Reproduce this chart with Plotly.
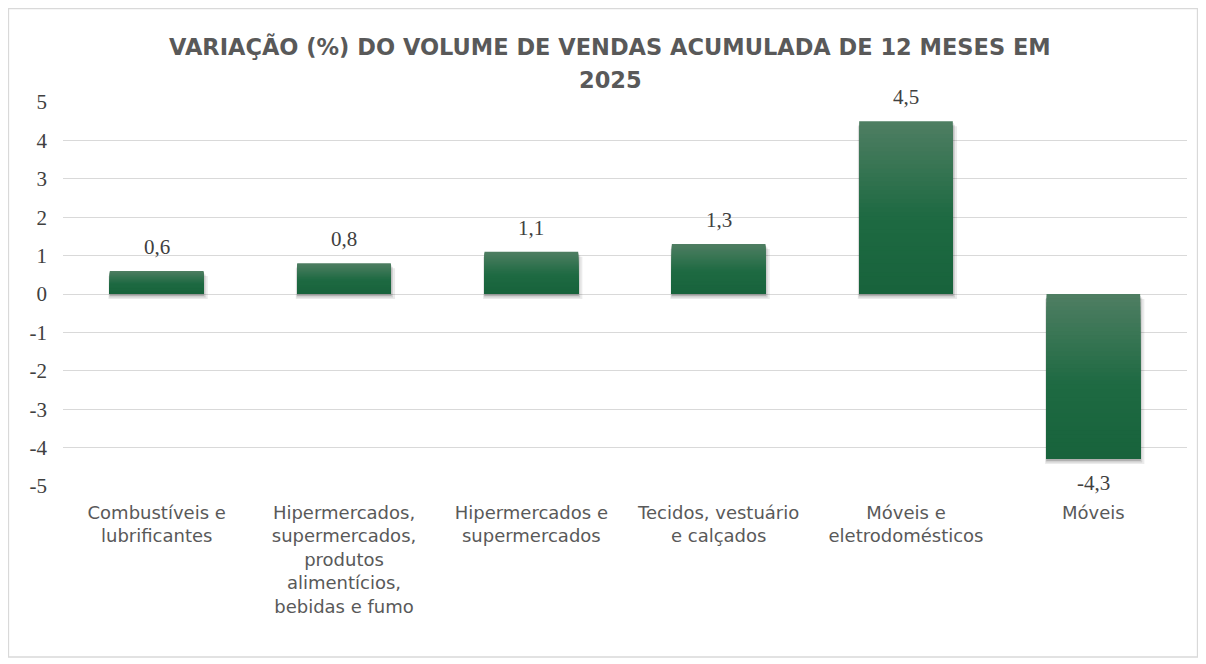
import plotly.graph_objects as go

categories = [
    "Combustíveis e<br>lubrificantes",
    "Hipermercados,<br>supermercados,<br>produtos<br>alimentícios,<br>bebidas e fumo",
    "Hipermercados e<br>supermercados",
    "Tecidos, vestuário<br>e calçados",
    "Móveis e<br>eletrodomésticos",
    "Móveis",
]
values = [0.6, 0.8, 1.1, 1.3, 4.5, -4.3]
labels = [f"{v:.1f}".replace(".", ",") for v in values]
y_ticks = [5, 4, 3, 2, 1, 0, -1, -2, -3, -4, -5]
title_lines = ["VARIAÇÃO (%) DO VOLUME DE VENDAS ACUMULADA DE 12 MESES EM", "2025"]

# layout geometry (figure is drawn at an 8px page offset)
W, H = 1190, 650
L, R, T, B = 55, 11, 94, 172
PW, PH = W - L - R, H - T - B
OFF = 8


def px(xs):
    return (xs - OFF - L) / PW


def py(ys):
    return (H - B - (ys - OFF)) / PH


# gradient colours (top -> middle -> bottom of each bar)
c_top, c_mid, c_bot = (78, 126, 98), (30, 106, 66), (24, 99, 60)


def grad(t):
    if t < 0.55:
        a, b, f = c_top, c_mid, t / 0.55
    else:
        a, b, f = c_mid, c_bot, (t - 0.55) / 0.45
    return "rgb(%d,%d,%d)" % tuple(round(a[i] + (b[i] - a[i]) * f) for i in range(3))


fig = go.Figure()

# soft drop shadow
for shift, w, alpha in [(0.13, 0.53, 0.08), (0.09, 0.515, 0.11), (0.05, 0.505, 0.15)]:
    fig.add_trace(go.Bar(
        x=categories, y=values, base=[-shift] * len(values), width=w,
        offset=-0.25 - (w - 0.5) / 4, marker=dict(color=f"rgba(0,0,0,{alpha})", line=dict(width=0)),
        hoverinfo="skip",
    ))

# gradient bars built from stacked slices of each value
N = 40
tops = [max(v, 0) for v in values]
bots = [min(v, 0) for v in values]
for k in range(N):
    heights = [(t - b) * (1 - k / N) for t, b in zip(tops, bots)]
    fig.add_trace(go.Bar(
        x=categories, y=heights, base=bots, width=0.5,
        marker=dict(color=grad(k / (N - 1)), line=dict(width=0)),
        hoverinfo="skip",
    ))

annotations = []
for c, v, lab in zip(categories, values, labels):
    annotations.append(dict(
        x=c, y=v, text=lab, showarrow=False, xref="x", yref="y",
        yanchor="bottom" if v >= 0 else "top", yshift=10 if v >= 0 else -10,
        font=dict(family="Liberation Serif", size=21, color="#404040"),
    ))
for i, (line, ys) in enumerate(zip(title_lines, [46, 80])):
    annotations.append(dict(
        text=f"<b>{line}</b>", xref="paper", yref="paper", x=px(610), y=py(ys),
        xanchor="center", yanchor="middle", showarrow=False,
        font=dict(family="DejaVu Sans", size=22.5, color="#595959"),
    ))

fig.update_layout(
    width=W, height=H,
    margin=dict(l=L, r=R, t=T, b=B, pad=0),
    paper_bgcolor="white", plot_bgcolor="white",
    showlegend=False, barmode="overlay", bargap=0.5,
    xaxis=dict(showgrid=False, showline=False, ticks="", ticklabelstandoff=14,
               tickfont=dict(family="DejaVu Sans", size=18, color="#595959")),
    yaxis=dict(range=[-5, 5], tickvals=y_ticks, ticktext=[str(t) for t in y_ticks],
               showgrid=True, gridcolor="#d9d9d9", gridwidth=1.3,
               zeroline=True, zerolinecolor="#d9d9d9", zerolinewidth=1.3,
               showline=False, ticks="", ticklabelstandoff=15,
               tickfont=dict(family="Liberation Serif", size=21, color="#404040")),
    shapes=[dict(type="rect", xref="paper", yref="paper",
                 x0=px(8.5), x1=px(1197.5), y0=py(657), y1=py(8.5),
                 line=dict(color="#d9d9d9", width=1.3), fillcolor="rgba(0,0,0,0)", layer="below")],
    annotations=annotations,
)
fig.write_html("out.html")
